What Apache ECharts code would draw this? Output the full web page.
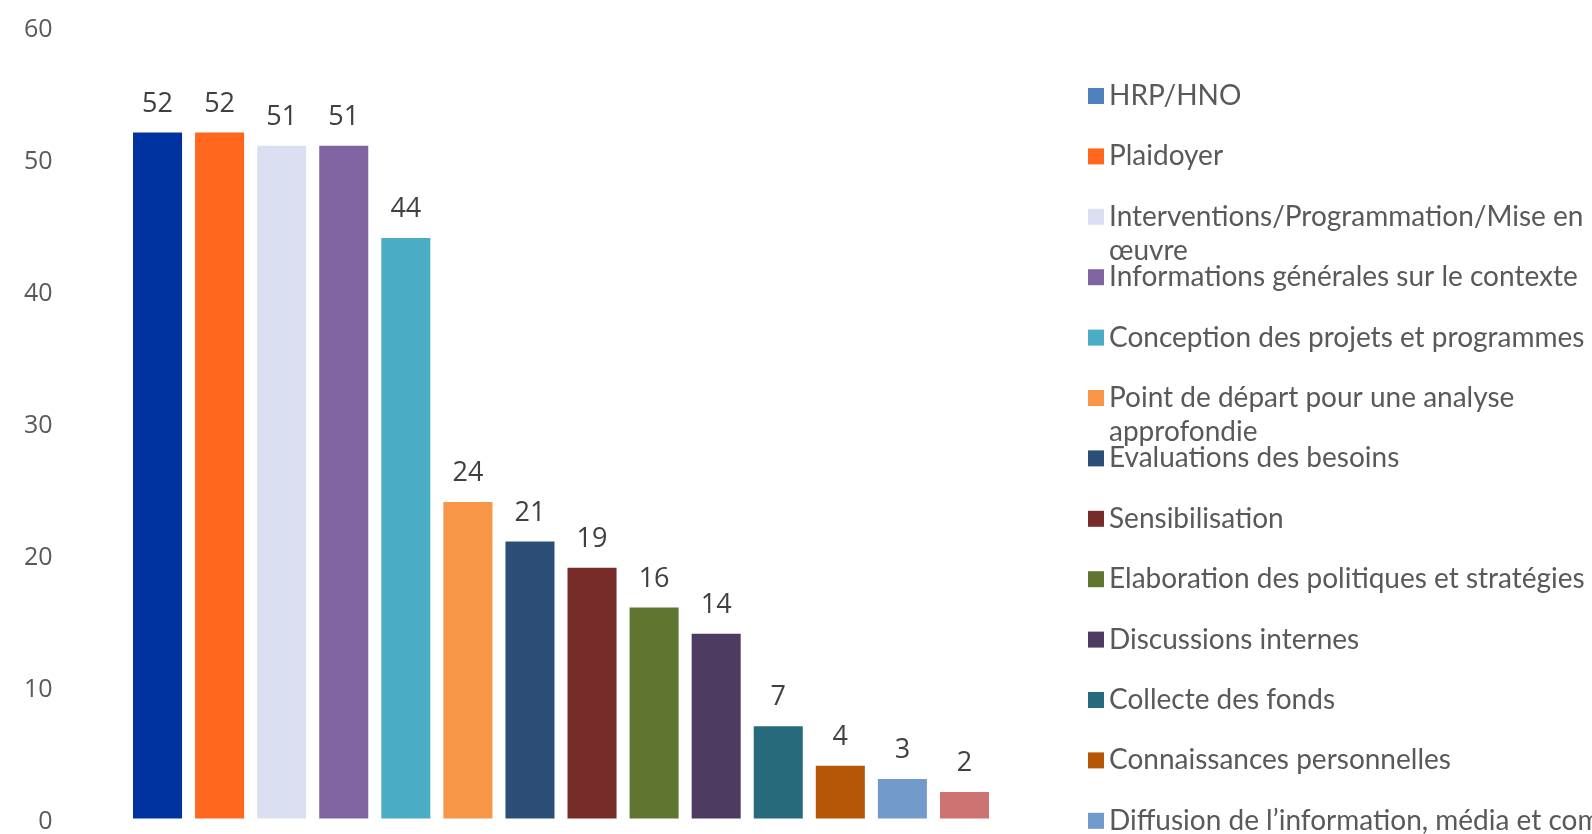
<!DOCTYPE html>
<html>
<head>
<meta charset="utf-8">
<script src="https://cdn.jsdelivr.net/npm/echarts@6/dist/echarts.min.js"></script>
<style>html,body{margin:0;padding:0;background:#fff}#c{width:1592px;height:834px}</style>
</head>
<body>
<div id="c"></div>
<script>
const categories = [
  "HRP/HNO",
  "Plaidoyer",
  "Interventions/Programmation/Mise en œuvre",
  "Informations générales sur le contexte",
  "Conception des projets et programmes",
  "Point de départ pour une analyse approfondie",
  "Evaluations des besoins",
  "Sensibilisation",
  "Elaboration des politiques et stratégies",
  "Discussions internes",
  "Collecte des fonds",
  "Connaissances personnelles",
  "Diffusion de l’information, média et communication",
  "Autres"
];
const values = [52, 52, 51, 51, 44, 24, 21, 19, 16, 14, 7, 4, 3, 2];
const barColors = ["#0033a0", "#ff671f", "#dae0f1", "#8064a2", "#4bacc6", "#f79646", "#2c4d75",
                   "#772c2a", "#5f7530", "#4d3b62", "#276a7c", "#b65708", "#729aca", "#cd7371"];
const legendColors = ["#4f81bd", "#ff671f", "#dae0f1", "#8064a2", "#4bacc6", "#f79646", "#2c4d75",
                      "#772c2a", "#5f7530", "#4d3b62", "#276a7c", "#b65708", "#729aca", "#cd7371"];
const legendLabels = [
  "HRP/HNO",
  "Plaidoyer",
  "Interventions/Programmation/Mise en\nœuvre",
  "Informations générales sur le contexte",
  "Conception des projets et programmes",
  "Point de départ pour une analyse\napprofondie",
  "Evaluations des besoins",
  "Sensibilisation",
  "Elaboration des politiques et stratégies",
  "Discussions internes",
  "Collecte des fonds",
  "Connaissances personnelles",
  "Diffusion de l’information, média et communication",
  "Autres"
];
const yTicks = { min: 0, max: 60, interval: 10 };

const chart = echarts.init(document.getElementById('c'), null, { renderer: 'canvas' });
const series = categories.map((name, i) => ({
  name: name,
  type: 'bar',
  stack: 'all',
  barCategoryGap: '21%',
  itemStyle: { color: barColors[i] },
  label: {
    show: true,
    position: 'top',
    distance: 15,
    fontFamily: 'Open Sans',
    fontSize: 27,
    color: '#404040'
  },
  data: values.map((v, j) => (j === i ? v : '-'))
}));

// one legend block per entry, stacked with a fixed pitch (long names wrap below without pushing the next entry)
const LEG_TOP = 95, LEG_PITCH = 60.4, LINE_H = 34;
const legends = [];
categories.forEach((name, i) => {
  const label = legendLabels[i];
  const twoLines = label.indexOf('\n') >= 0;
  const center = LEG_TOP + i * LEG_PITCH;
  if (center > 834) return;
  // a leading empty line keeps the first text line level with the icon
  const shown = twoLines ? '\n' + label : label;
  legends.push({
    orient: 'vertical',
    left: 1088,
    top: center - 16 - (twoLines ? LINE_H : 0),
    padding: 0,
    icon: 'rect',
    itemWidth: 16,
    itemHeight: 16,
    selectedMode: false,
    data: [{ name: name, itemStyle: { color: legendColors[i] } }],
    formatter: function () { return shown; },
    textStyle: {
      fontFamily: 'Lato',
      fontSize: 28,
      color: '#595959',
      lineHeight: LINE_H
    }
  });
});

chart.setOption({
  animation: false,
  backgroundColor: '#ffffff',
  grid: { left: 126.5, right: 596.5, top: 27, bottom: 15 },
  xAxis: {
    type: 'category',
    data: categories,
    axisLine: { show: false },
    axisTick: { show: false },
    axisLabel: { show: false }
  },
  yAxis: {
    type: 'value',
    min: yTicks.min,
    max: yTicks.max,
    interval: yTicks.interval,
    splitLine: { show: false },
    axisLine: { show: false },
    axisTick: { show: false },
    axisLabel: {
      margin: 74,
      formatter: '{a|{value}}',
      rich: {
        a: {
          fontFamily: 'Open Sans',
          fontSize: 25,
          color: '#595959',
          padding: [6, 0, 0, 0]
        }
      }
    }
  },
  legend: legends,
  series: series
});
</script>
</body>
</html>
